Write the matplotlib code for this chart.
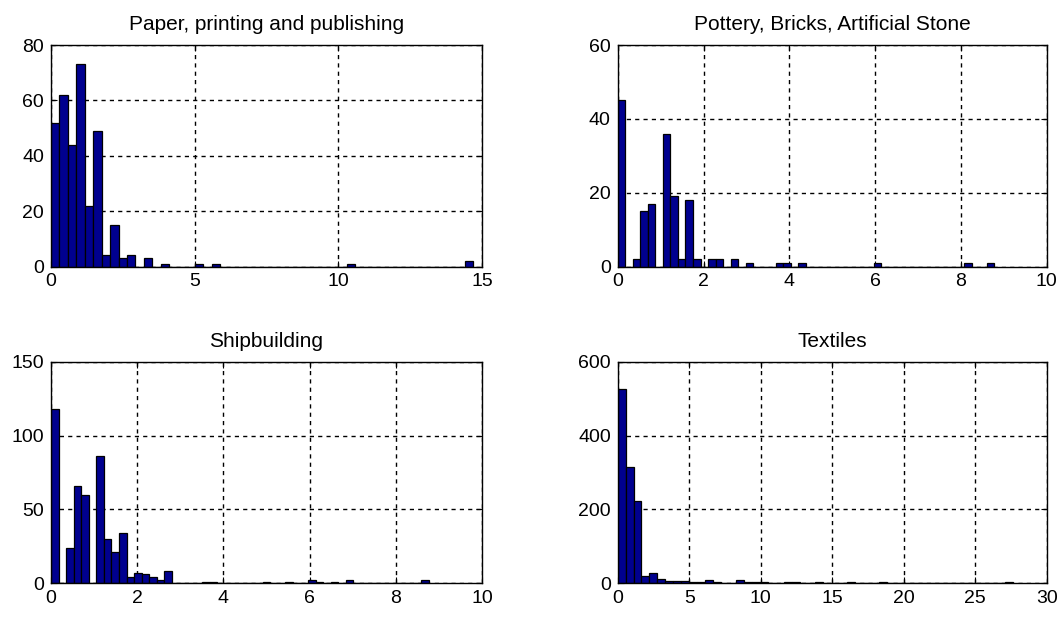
import numpy as np
import matplotlib
matplotlib.use("Agg")
import matplotlib.pyplot as plt

plt.rcParams["font.family"] = ["Liberation Sans", "DejaVu Sans"]

# ============ 数据: 每个面板 50 个 bin 的计数 ============
titles = [
    "Paper, printing and publishing",
    "Pottery, Bricks, Artificial Stone",
    "Shipbuilding",
    "Textiles",
]

# 数据范围 (hist 的 bin 从 0 到最大值, 共 50 个)
data_max = [14.7, 8.78, 8.77, 27.66]

paper_counts = [52, 62, 44, 73, 22, 49, 4, 15, 3, 4,
                0, 3, 0, 1, 0, 0, 0, 1, 0, 1,
                0, 0, 0, 0, 0, 0, 0, 0, 0, 0,
                0, 0, 0, 0, 0, 1, 0, 0, 0, 0,
                0, 0, 0, 0, 0, 0, 0, 0, 0, 2]

pottery_counts = [45, 0, 2, 15, 17, 0, 36, 19, 2, 18,
                  2, 0, 2, 2, 0, 2, 0, 1, 0, 0,
                  0, 1, 1, 0, 1, 0, 0, 0, 0, 0,
                  0, 0, 0, 0, 1, 0, 0, 0, 0, 0,
                  0, 0, 0, 0, 0, 0, 1, 0, 0, 1]

ship_counts = [118, 0, 24, 66, 60, 0, 86, 30, 21, 34,
               4, 7, 6, 4, 2, 8, 0, 0, 0, 0,
               1, 1, 0, 0, 0, 0, 0, 0, 1, 0,
               0, 1, 0, 0, 2, 1, 0, 1, 0, 2,
               0, 0, 0, 0, 0, 0, 0, 0, 0, 2]

textile_counts = [526, 314, 223, 18, 28, 10, 5, 5, 5, 4,
                  4, 9, 4, 0, 0, 9, 4, 2, 3, 0,
                  0, 3, 3, 0, 0, 3, 0, 0, 0, 3,
                  0, 0, 0, 3, 0, 0, 0, 0, 0, 0,
                  0, 0, 0, 0, 0, 0, 0, 0, 0, 3]

all_counts = [paper_counts, pottery_counts, ship_counts, textile_counts]

x_limits = [15, 10, 10, 30]
x_steps = [5, 2, 2, 5]
y_limits = [80, 60, 150, 600]
y_steps = [20, 20, 50, 200]

# ============ 绘图 (MATLAB 风格) ============
W, H = 1064, 619
fig = plt.figure(figsize=(W / 100, H / 100), dpi=100)

# 轴位置 (像素): left, top, right, bottom
boxes = [
    (51, 45, 482, 266.5),
    (617.7, 45, 1046.7, 266.5),
    (51, 362, 482, 583),
    (617.7, 362, 1046.7, 583),
]

for i, (l, t, r, b) in enumerate(boxes):
    ax = fig.add_axes([l / W, (H - b) / H, (r - l) / W, (b - t) / H])
    edges = np.linspace(0, data_max[i], len(all_counts[i]) + 1)
    ax.bar(edges[:-1], all_counts[i], width=np.diff(edges), align="edge",
           color="#00008F", edgecolor="black", linewidth=0.9, zorder=2)
    ax.set_xlim(0, x_limits[i])
    ax.set_ylim(0, y_limits[i])
    ax.set_xticks(np.arange(0, x_limits[i] + 0.01, x_steps[i]))
    ax.set_yticks(np.arange(0, y_limits[i] + 0.01, y_steps[i]))
    ax.set_axisbelow(True)
    ax.grid(True, color="black", linestyle=(0, (3, 3)), linewidth=1.0)
    ax.tick_params(direction="in", length=4, width=0.8, labelsize=14,
                   top=True, right=True, pad=5)
    for sp in ax.spines.values():
        sp.set_color("black")
        sp.set_linewidth(1.0)
    ax.set_title(titles[i], fontsize=15, pad=11)

plt.savefig("out.png", dpi=100, facecolor="white")
